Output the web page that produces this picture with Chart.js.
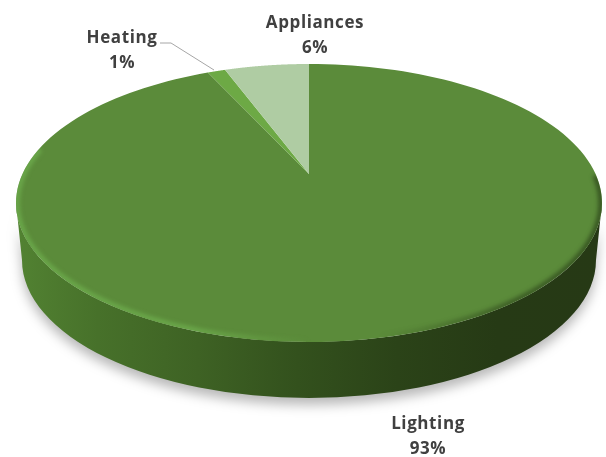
<!DOCTYPE html>
<html>
<head>
<meta charset="utf-8">
<style>
body { margin: 0; background: #fff; }
canvas { display: block; }
</style>
<script src="https://cdn.jsdelivr.net/npm/chart.js@4"></script>
</head>
<body>
<canvas id="myChart" width="606" height="457"></canvas>
<script>
var categories = ['Lighting', 'Heating', 'Appliances'];
var values = [93.1, 1.2, 5.7];
var colors = ['#5B8B3A', '#6DA945', '#AFCCA3'];

// top face and bottom rim of the disc, k moves the pie centre up for the perspective
var top3d = { cx: 309, cy: 203, rx: 293, ry: 139, k: -0.209 };
var bottom3d = { cx: 309, cy: 260, rx: 287, ry: 138 };

function project(angle) {
    var u = Math.cos(angle), v = Math.sin(angle), k = top3d.k;
    var d = 1 + k * v;
    return {
        x: top3d.cx + top3d.rx * u * Math.sqrt(1 - k * k) / d,
        y: top3d.cy + top3d.ry * (v + k) / d
    };
}

function drawSide(ctx) {
    var grad = ctx.createLinearGradient(16, 0, 602, 0);
    grad.addColorStop(0, '#528232');
    grad.addColorStop(0.14, '#47712A');
    grad.addColorStop(0.31, '#3E6224');
    grad.addColorStop(0.48, '#33511D');
    grad.addColorStop(0.65, '#2B4318');
    grad.addColorStop(0.82, '#263A15');
    grad.addColorStop(1, '#263915');
    ctx.save();
    ctx.beginPath();
    ctx.ellipse(top3d.cx, top3d.cy, top3d.rx, top3d.ry, 0, 0, Math.PI);
    ctx.lineTo(bottom3d.cx - bottom3d.rx, bottom3d.cy);
    ctx.ellipse(bottom3d.cx, bottom3d.cy, bottom3d.rx, bottom3d.ry, 0, Math.PI, 0, true);
    ctx.closePath();
    ctx.shadowColor = 'rgba(0,0,0,0.28)';
    ctx.shadowBlur = 12;
    ctx.shadowOffsetY = 7;
    ctx.fillStyle = grad;
    ctx.fill();
    ctx.restore();
}

function drawRim(ctx) {
    var grad = ctx.createLinearGradient(16, 0, 602, 0);
    grad.addColorStop(0, 'rgba(112,178,80,0.8)');
    grad.addColorStop(0.3, 'rgba(112,178,80,0.8)');
    grad.addColorStop(0.5, 'rgba(112,178,80,0)');
    grad.addColorStop(0.62, 'rgba(35,55,20,0)');
    grad.addColorStop(0.85, 'rgba(35,55,20,0.6)');
    grad.addColorStop(1, 'rgba(35,55,20,0.7)');
    ctx.save();
    ctx.beginPath();
    ctx.ellipse(top3d.cx, top3d.cy, top3d.rx, top3d.ry, 0, 0, Math.PI * 2);
    ctx.clip();
    ctx.filter = 'blur(2px)';
    ctx.beginPath();
    ctx.ellipse(top3d.cx, top3d.cy, top3d.rx - 1, top3d.ry - 1, 0, -0.2, Math.PI + 0.4);
    ctx.strokeStyle = grad;
    ctx.lineWidth = 5;
    ctx.stroke();
    ctx.restore();
}

function drawSlice(ctx, arc) {
    var steps = 160;
    var centre = { x: top3d.cx, y: top3d.cy + top3d.ry * top3d.k };
    ctx.beginPath();
    ctx.moveTo(centre.x, centre.y);
    for (var i = 0; i <= steps; i++) {
        var p = project(arc.startAngle + (arc.endAngle - arc.startAngle) * i / steps);
        ctx.lineTo(p.x, p.y);
    }
    ctx.closePath();
    ctx.fillStyle = arc.options.backgroundColor;
    ctx.fill();
}

function drawLabel(ctx, index, x, y) {
    ctx.font = 'bold 17px "Open Sans"';
    ctx.letterSpacing = '0.6px';
    ctx.fillStyle = '#404040';
    ctx.textAlign = 'center';
    ctx.textBaseline = 'middle';
    ctx.fillText(categories[index], x, y);
    ctx.fillText(Math.round(values[index]) + '%', x, y + 25);
}

var pie3d = {
    id: 'pie3d',
    beforeDatasetDraw: function (chart) {
        var ctx = chart.ctx;
        var arcs = chart.getDatasetMeta(0).data;
        drawSide(ctx);
        arcs.forEach(function (arc) { drawSlice(ctx, arc); });
        drawRim(ctx);

        // leader line for the small slice
        ctx.beginPath();
        ctx.moveTo(160, 43);
        ctx.lineTo(171, 43);
        ctx.lineTo(214, 70);
        ctx.strokeStyle = '#A6A6A6';
        ctx.lineWidth = 1;
        ctx.stroke();

        drawLabel(ctx, 0, 428, 424);
        drawLabel(ctx, 1, 122, 38);
        drawLabel(ctx, 2, 315, 23);
        return false;
    }
};

var ctx = document.getElementById('myChart').getContext('2d');
var myChart = new Chart(ctx, {
    type: 'pie',
    data: {
        labels: categories,
        datasets: [{
            data: values,
            backgroundColor: colors,
            borderWidth: 0
        }]
    },
    options: {
        responsive: false,
        animation: false,
        plugins: {
            legend: { display: false },
            tooltip: { enabled: false }
        }
    },
    plugins: [pie3d]
});
</script>
</body>
</html>
